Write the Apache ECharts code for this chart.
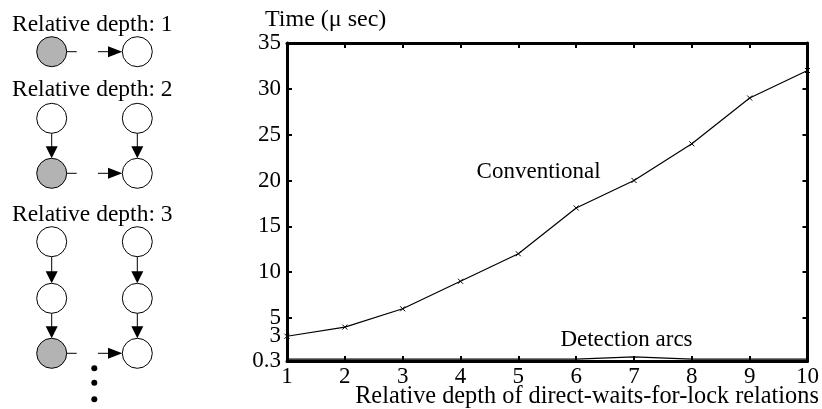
<!DOCTYPE html>
<html lang="en">
<head>
<meta charset="UTF-8">
<title>Relative depth</title>
<style>
    html, body { margin: 0; padding: 0; background: #fff; }
    #chart { width: 822px; height: 409px; }
</style>
<script src="https://cdn.jsdelivr.net/npm/echarts@6/dist/echarts.min.js"></script>
</head>
<body>
<div id="chart"></div>
<script>
// data
var depths = [1, 2, 3, 4, 5, 6, 7, 8, 9, 10];
var conventional = [3, 4, 6, 9, 12, 17, 20, 24, 29, 32];
var detectionArcs = [0.5, 0.5, 0.5, 0.5, 0.5, 0.5, 0.75, 0.5, 0.5, 0.5];
var yLabels = [0.3, 3, 5, 10, 15, 20, 25, 30, 35];
var yTicks = [5, 10, 15, 20, 25, 30];
var depthTitles = ['Relative depth: 1', 'Relative depth: 2', 'Relative depth: 3'];

var FONT = 'Liberation Serif';
var chart = echarts.init(document.getElementById('chart'), null, {renderer: 'canvas'});

function pairs(ys) {
    return depths.map(function (x, i) { return [x, ys[i]]; });
}

// left-hand sketch of the waits-for chains
var R = 15, LX = 51.7, RX = 137.3;
var g = [];
function node(cx, cy, grey) {
    g.push({type: 'circle', shape: {cx: cx, cy: cy, r: R},
        style: {fill: grey ? '#b3b3b3' : '#fff', stroke: '#000', lineWidth: 1}});
}
function down(cx, y1, y2) {
    g.push({type: 'line', shape: {x1: cx, y1: y1 + R, x2: cx, y2: y2 - R - 11}, style: {stroke: '#000', lineWidth: 1}});
    g.push({type: 'polygon', shape: {points: [[cx - 6, y2 - R - 12], [cx + 6, y2 - R - 12], [cx, y2 - R]]}, style: {fill: '#000'}});
}
function across(cy) {
    g.push({type: 'line', shape: {x1: LX + R, y1: cy, x2: LX + R + 10, y2: cy}, style: {stroke: '#000', lineWidth: 1}});
    g.push({type: 'line', shape: {x1: 98, y1: cy, x2: 110, y2: cy}, style: {stroke: '#000', lineWidth: 1}});
    g.push({type: 'polygon', shape: {points: [[108, cy - 5.5], [108, cy + 5.5], [RX - R, cy]]}, style: {fill: '#000'}});
}
function title(txt, y) {
    g.push({type: 'text', x: 12, y: y, style: {text: txt, font: '23.5px "' + FONT + '"', fill: '#000', verticalAlign: 'middle'}});
}
var rows = [[51.7], [118.3, 173.3], [241.7, 298.3, 353.3]];
var titleY = [25, 89.5, 214.5];
rows.forEach(function (ys, k) {
    title(depthTitles[k], titleY[k]);
    ys.forEach(function (y, i) {
        node(LX, y, i === ys.length - 1);
        node(RX, y, false);
        if (i > 0) { down(LX, ys[i - 1], y); down(RX, ys[i - 1], y); }
    });
    across(ys[ys.length - 1]);
});
[368.3, 382.7, 399.3].forEach(function (y) {
    g.push({type: 'circle', shape: {cx: 94.3, cy: y, r: 3}, style: {fill: '#000'}});
});
g.push({type: 'text', x: 265, y: 19.5, style: {text: 'Time (\u03bc sec)', font: '24px "' + FONT + '"', fill: '#000', verticalAlign: 'middle'}});
g.push({type: 'text', x: 587, y: 397, style: {text: 'Relative depth of direct-waits-for-lock relations', font: '24.3px "' + FONT + '"', fill: '#000', align: 'center', verticalAlign: 'middle'}});

var txt = {fontFamily: FONT, fontSize: 23, color: '#000'};
var axisLine = {show: true, lineStyle: {color: '#000', width: 3}};
var tick = {show: true, inside: true, length: 5, lineStyle: {color: '#000', width: 2}};

var option = {
    animation: false,
    backgroundColor: '#fff',
    grid: {left: 287, right: 14, top: 43, bottom: 48},
    xAxis: [
        {type: 'value', min: 1, max: 10, interval: 1, position: 'bottom',
            axisLine: axisLine, axisTick: tick, splitLine: {show: false},
            axisLabel: Object.assign({margin: 4}, txt)},
        {type: 'value', min: 1, max: 10, interval: 1, position: 'top',
            axisLine: axisLine, axisTick: tick, splitLine: {show: false}, axisLabel: {show: false}}
    ],
    yAxis: [
        {type: 'value', min: 0.3, max: 35, position: 'left',
            axisLine: axisLine, splitLine: {show: false},
            axisTick: Object.assign({customValues: yTicks}, tick),
            axisLabel: Object.assign({customValues: yLabels, margin: 6, formatter: function (v) { return String(v); }}, txt)},
        {type: 'value', min: 0.3, max: 35, position: 'right',
            axisLine: axisLine, splitLine: {show: false},
            axisTick: Object.assign({customValues: yTicks}, tick),
            axisLabel: {show: false}}
    ],
    graphic: g,
    series: [
        {
            name: 'Conventional', type: 'line', data: pairs(conventional),
            symbol: 'path://M0,0L10,10M0,10L10,0', symbolSize: 5,
            itemStyle: {color: '#000', borderColor: '#000', borderWidth: 1},
            lineStyle: {color: '#000', width: 1.2},
            markPoint: {symbolSize: 0, data: [{coord: [5.35, 20.88], value: 'Conventional'}],
                label: Object.assign({show: true, formatter: 'Conventional'}, txt)}
        },
        {
            name: 'Detection arcs', type: 'line', data: pairs(detectionArcs),
            showSymbol: false,
            lineStyle: {color: '#000', width: 1.2},
            markPoint: {symbolSize: 0, data: [{coord: [6.87, 2.65], value: 'Detection arcs'}],
                label: Object.assign({show: true, formatter: 'Detection arcs'}, txt)}
        }
    ]
};
chart.setOption(option);
</script>
</body>
</html>
